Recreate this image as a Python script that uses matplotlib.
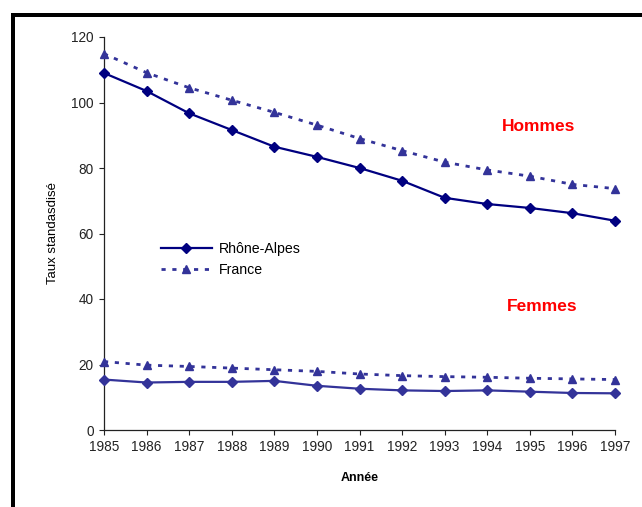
import matplotlib
matplotlib.use("Agg")
import matplotlib.pyplot as plt
from matplotlib.lines import Line2D

plt.rcParams['font.family'] = ['Liberation Sans', 'DejaVu Sans']

years = [1985, 1986, 1987, 1988, 1989, 1990, 1991, 1992, 1993, 1994, 1995, 1996, 1997]
ra_hommes = [109.0, 103.5, 96.7, 91.6, 86.5, 83.4, 80.0, 76.1, 70.9, 69.0, 67.8, 66.2, 63.9]
fr_hommes = [114.9, 109.1, 104.5, 100.7, 97.0, 93.1, 89.0, 85.3, 81.8, 79.4, 77.5, 75.0, 73.7]
ra_femmes = [15.4, 14.5, 14.7, 14.7, 15.0, 13.5, 12.6, 12.1, 11.9, 12.1, 11.7, 11.3, 11.2]
fr_femmes = [20.9, 19.8, 19.4, 18.9, 18.4, 17.9, 17.1, 16.6, 16.3, 16.1, 15.8, 15.6, 15.4]
yticks = [0, 20, 40, 60, 80, 100, 120]

W, H = 642, 507
fig = plt.figure(figsize=(W / 100, H / 100), dpi=100)
ax = fig.add_axes([104 / W, (H - 430) / H, 511 / W, 393 / H])

navy = '#000080'
blue = '#333399'
dot = (0, (1.5, 2.4))

ax.plot(years, ra_hommes, color=navy, lw=1.6, marker='D', ms=4.8, mfc=navy, mec=navy,
        label='Rhône-Alpes', clip_on=False, zorder=3)
ax.plot(years, fr_hommes, color=blue, lw=2.0, linestyle=dot, marker='^', ms=6.3, mfc=blue,
        mec=blue, label='France', clip_on=False, zorder=3)
ax.plot(years, ra_femmes, color=blue, lw=1.6, marker='D', ms=4.8, mfc=blue, mec=blue,
        clip_on=False, zorder=3)
ax.plot(years, fr_femmes, color=blue, lw=2.0, linestyle=dot, marker='^', ms=6.3, mfc=blue,
        mec=blue, clip_on=False, zorder=3)

ax.set_xlim(1985, 1997)
ax.set_ylim(0, 120)
ax.set_xticks(years)
ax.set_xticklabels([str(y) for y in years])
ax.set_yticks(yticks)
ax.tick_params(direction='out', length=3.5, width=0.8, labelsize=9.8, colors='#222222',
               pad=4)
for s in ['top', 'right']:
    ax.spines[s].set_visible(False)
for s in ['left', 'bottom']:
    ax.spines[s].set_color('#222222')
    ax.spines[s].set_linewidth(0.9)

ax.set_xlabel('Année', fontsize=9, fontweight='bold', labelpad=13)
ax.set_ylabel('Taux standasdisé', fontsize=9.5, labelpad=9)

ax.text(1995.2, 92.8, 'Hommes', color='#ff0000', fontsize=12.5, fontweight='bold',
        ha='center', va='center')
ax.text(1995.3, 37.6, 'Femmes', color='#ff0000', fontsize=12.5, fontweight='bold',
        ha='center', va='center')

leg = ax.legend(loc='upper left', bbox_to_anchor=((155 - 104) / 511, (430 - 236) / 393),
                frameon=False, fontsize=10.2, handlelength=3.6, handletextpad=0.5,
                labelspacing=0.5, borderaxespad=0)

# figure frame (left and top visible)
lw_px = 4
fig.add_artist(Line2D([12.5 / W, 12.5 / W], [-0.05, 1 - 14.5 / H], transform=fig.transFigure,
                      color='black', lw=lw_px * 0.72, solid_capstyle='projecting'))
fig.add_artist(Line2D([12.5 / W, 1.05], [1 - 14.5 / H, 1 - 14.5 / H], transform=fig.transFigure,
                      color='black', lw=lw_px * 0.72, solid_capstyle='projecting'))

fig.savefig('out.png', dpi=100)
